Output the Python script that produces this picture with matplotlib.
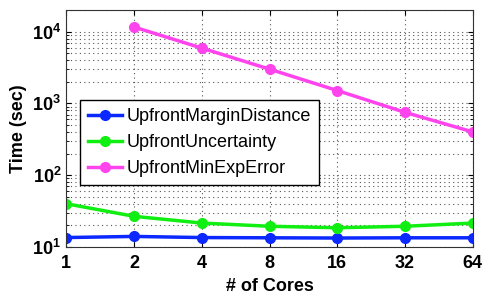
import matplotlib
matplotlib.use("Agg")
import matplotlib.pyplot as plt
import matplotlib.ticker as mtick

plt.rcParams["font.family"] = ["Liberation Sans", "DejaVu Sans"]
plt.rcParams["font.weight"] = "bold"
plt.rcParams["mathtext.fontset"] = "custom"
plt.rcParams["mathtext.rm"] = "Liberation Sans:bold"
plt.rcParams["mathtext.bf"] = "Liberation Sans:bold"

# --- data ---
cores = [1, 2, 4, 8, 16, 32, 64]
margin_distance = [13.5, 14, 13.5, 13.4, 13.3, 13.4, 13.4]
uncertainty = [40, 26.7, 21.5, 19.4, 18.5, 19.4, 21.5]
minexp_cores = [2, 4, 8, 16, 32, 64]
minexp_error = [11600, 5900, 3000, 1510, 750, 400]

yticks = [10, 100, 1000, 10000]
ytick_labels = [r"$10^{1}$", r"$10^{2}$", r"$10^{3}$", r"$10^{4}$"]

fig = plt.figure(figsize=(4.83, 2.95), dpi=100)
ax = fig.add_axes([0.137, 0.163, 0.842, 0.803])

ax.plot(cores, margin_distance, "-o", color="#0a28ff", lw=2.5, ms=7,
        label="UpfrontMarginDistance")
ax.plot(cores, uncertainty, "-o", color="#11ee11", lw=2.5, ms=7,
        label="UpfrontUncertainty")
ax.plot(minexp_cores, minexp_error, "-o", color="#ff44ee", lw=2.5, ms=7,
        label="UpfrontMinExpError")

ax.set_xscale("log", base=2)
ax.set_yscale("log")
ax.set_xlim(1, 64)
ax.set_ylim(10, 2e4)
ax.set_xticks(cores)
ax.xaxis.set_major_formatter(mtick.FixedFormatter([str(c) for c in cores]))
ax.xaxis.set_minor_locator(mtick.NullLocator())
ax.set_yticks(yticks)
ax.yaxis.set_major_formatter(mtick.FixedFormatter(ytick_labels))
ax.yaxis.set_minor_locator(mtick.LogLocator(base=10, subs=range(2, 10)))
ax.yaxis.set_minor_formatter(mtick.NullFormatter())

ax.grid(True, which="major", linestyle=(0, (1, 3)), color="#555555", lw=0.8)
ax.grid(True, which="minor", axis="y", linestyle=(0, (1, 3)), color="#555555", lw=0.8)
ax.tick_params(which="both", direction="in", top=True, right=True,
               labelsize=13, colors="black")
ax.tick_params(axis="x", pad=6)
for s in ax.spines.values():
    s.set_color("#333333")

ax.set_xlabel("# of Cores", fontsize=13, fontweight="bold")
ax.set_ylabel("Time (sec)", fontsize=13, fontweight="bold")

leg = ax.legend(loc="upper left", bbox_to_anchor=(0.034, 0.62), fontsize=13,
                frameon=True, fancybox=False, framealpha=1, edgecolor="black",
                handlelength=1.9, borderpad=0.45, labelspacing=0.5,
                handletextpad=0.25, borderaxespad=0)
leg.get_frame().set_linewidth(1.0)
for t in leg.get_texts():
    t.set_fontweight("normal")

fig.savefig("out.png", dpi=100)
